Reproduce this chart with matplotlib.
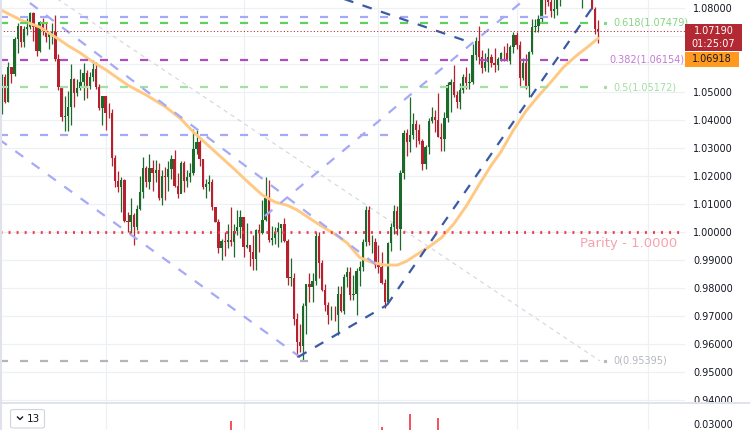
import matplotlib
matplotlib.use('Agg')
import matplotlib.pyplot as plt
import matplotlib.transforms as mtransforms
from matplotlib.patches import Rectangle, FancyBboxPatch
from matplotlib.lines import Line2D
import numpy as np
import pandas as pd

plt.rcParams['font.family'] = ['DejaVu Sans']
plt.rcParams['lines.scale_dashes'] = False

# ---------------- data (EUR/USD daily) ----------------
dates = pd.bdate_range('2022-05-17', '2023-02-07')

opens = [1.0437, 1.0553, 1.0465, 1.0588, 1.0563, 1.0690, 1.0734, 1.0677, 1.0725, 1.0733,
         1.0781, 1.0733, 1.0647, 1.0750, 1.0719, 1.0695, 1.0707, 1.0716, 1.0618, 1.0518,
         1.0409, 1.0413, 1.0446, 1.0547, 1.0495, 1.0513, 1.0537, 1.0567, 1.0520, 1.0554,
         1.0583, 1.0519, 1.0442, 1.0484, 1.0426, 1.0424, 1.0265, 1.0182, 1.0162, 1.0185,
         1.0040, 1.0036, 1.0061, 1.0019, 1.0081, 1.0143, 1.0228, 1.0179, 1.0230, 1.0211,
         1.0222, 1.0123, 1.0199, 1.0198, 1.0225, 1.0260, 1.0163, 1.0135, 1.0245, 1.0182,
         1.0196, 1.0211, 1.0298, 1.0322, 1.0259, 1.0160, 1.0170, 1.0178, 1.0088, 1.0037,
         0.9942, 0.9967, 0.9966, 0.9973, 0.9965, 1.0005, 1.0019, 1.0054, 0.9945, 0.9955,
         0.9930, 0.9903, 1.0006, 0.9997, 1.0042, 1.0121, 0.9971, 0.9978, 0.9999, 1.0015,
         1.0027, 0.9969, 0.9837, 0.9837, 0.9688, 0.9606, 0.9594, 0.9735, 0.9815, 0.9802,
         0.9825, 0.9987, 0.9888, 0.9792, 0.9741, 0.9703, 0.9705, 0.9702, 0.9780, 0.9719,
         0.9838, 0.9856, 0.9775, 0.9779, 0.9862, 0.9875, 0.9965, 1.0079, 0.9964, 0.9965,
         0.9883, 0.9875, 0.9819, 0.9749, 0.9960, 1.0018, 1.0075, 1.0011, 1.0210, 1.0355,
         1.0322, 1.0348, 1.0385, 1.0363, 1.0325, 1.0243, 1.0303, 1.0396, 1.0409, 1.0400,
         1.0340, 1.0332, 1.0406, 1.0524, 1.0535, 1.0491, 1.0466, 1.0507, 1.0555, 1.0532,
         1.0536, 1.0632, 1.0682, 1.0626, 1.0585, 1.0606, 1.0625, 1.0605, 1.0595, 1.0617,
         1.0640, 1.0638, 1.0612, 1.0660, 1.0705, 1.0669, 1.0550, 1.0605, 1.0520, 1.0643,
         1.0733, 1.0736, 1.0762, 1.0852, 1.0830, 1.0820, 1.0788, 1.0796, 1.0829, 1.0855,
         1.0870, 1.0886, 1.0915, 1.0890, 1.0870, 1.0848, 1.0863, 1.0989, 1.0912, 1.0795,
         1.0726]
highs = [1.0564, 1.0565, 1.0607, 1.0590, 1.0697, 1.0748, 1.0737, 1.0736, 1.0765, 1.0787,
         1.0786, 1.0737, 1.0752, 1.0764, 1.0749, 1.0711, 1.0748, 1.0774, 1.0637, 1.0521,
         1.0485, 1.0505, 1.0601, 1.0549, 1.0545, 1.0583, 1.0605, 1.0579, 1.0571, 1.0615,
         1.0606, 1.0530, 1.0487, 1.0486, 1.0462, 1.0441, 1.0275, 1.0219, 1.0198, 1.0190,
         1.0071, 1.0121, 1.0068, 1.0098, 1.0200, 1.0268, 1.0235, 1.0278, 1.0257, 1.0258,
         1.0247, 1.0221, 1.0233, 1.0254, 1.0274, 1.0294, 1.0209, 1.0254, 1.0253, 1.0223,
         1.0248, 1.0368, 1.0364, 1.0327, 1.0260, 1.0190, 1.0202, 1.0190, 1.0090, 1.0047,
         0.9975, 0.9999, 1.0029, 1.0090, 1.0028, 1.0080, 1.0079, 1.0055, 1.0033, 0.9950,
         0.9989, 1.0012, 1.0030, 1.0113, 1.0198, 1.0187, 1.0020, 1.0017, 1.0036, 1.0030,
         1.0051, 0.9976, 0.9908, 0.9852, 0.9709, 0.9671, 0.9747, 0.9816, 0.9854, 0.9855,
         0.9999, 0.9999, 0.9899, 0.9815, 0.9749, 0.9736, 0.9736, 0.9808, 0.9806, 0.9849,
         0.9876, 0.9876, 0.9847, 0.9871, 0.9898, 0.9976, 1.0094, 1.0093, 0.9989, 0.9979,
         0.9954, 0.9927, 0.9832, 0.9966, 1.0033, 1.0097, 1.0092, 1.0222, 1.0364, 1.0367,
         1.0481, 1.0424, 1.0399, 1.0385, 1.0332, 1.0311, 1.0408, 1.0448, 1.0434, 1.0497,
         1.0391, 1.0428, 1.0534, 1.0545, 1.0595, 1.0505, 1.0531, 1.0563, 1.0588, 1.0567,
         1.0673, 1.0695, 1.0736, 1.0651, 1.0638, 1.0658, 1.0637, 1.0658, 1.0626, 1.0644,
         1.0666, 1.0675, 1.0667, 1.0713, 1.0714, 1.0683, 1.0621, 1.0634, 1.0648, 1.0760,
         1.0760, 1.0776, 1.0868, 1.0870, 1.0874, 1.0866, 1.0887, 1.0846, 1.0859, 1.0927,
         1.0898, 1.0915, 1.0929, 1.0904, 1.0915, 1.0870, 1.0990, 1.1033, 1.0940, 1.0803,
         1.0756]
lows = [1.0422, 1.0459, 1.0463, 1.0532, 1.0557, 1.0641, 1.0660, 1.0662, 1.0705, 1.0725,
        1.0683, 1.0627, 1.0644, 1.0703, 1.0680, 1.0653, 1.0671, 1.0611, 1.0506, 1.0397,
        1.0360, 1.0359, 1.0383, 1.0446, 1.0485, 1.0508, 1.0470, 1.0480, 1.0510, 1.0540,
        1.0510, 1.0437, 1.0382, 1.0366, 1.0408, 1.0235, 1.0162, 1.0144, 1.0072, 1.0036,
        0.9999, 0.9998, 0.9952, 1.0007, 1.0080, 1.0123, 1.0160, 1.0153, 1.0147, 1.0180,
        1.0114, 1.0097, 1.0113, 1.0145, 1.0189, 1.0162, 1.0123, 1.0143, 1.0142, 1.0159,
        1.0177, 1.0202, 1.0277, 1.0234, 1.0152, 1.0121, 1.0148, 1.0077, 1.0034, 0.9926,
        0.9901, 0.9914, 0.9944, 0.9950, 0.9910, 0.9990, 0.9977, 0.9910, 0.9943, 0.9877,
        0.9865, 0.9864, 0.9929, 0.9993, 1.0039, 0.9966, 0.9955, 0.9957, 0.9945, 0.9966,
        0.9966, 0.9811, 0.9807, 0.9668, 0.9553, 0.9571, 0.95395, 0.9635, 0.9749, 0.9750,
        0.9812, 0.9836, 0.9788, 0.9719, 0.9671, 0.9686, 0.9681, 0.9632, 0.9713, 0.9707,
        0.9802, 0.9758, 0.9756, 0.9705, 0.9808, 0.9859, 0.9951, 0.9953, 0.9925, 0.9872,
        0.9853, 0.9813, 0.9730, 0.9747, 0.9933, 0.9993, 0.9990, 0.9935, 1.0190, 1.0271,
        1.0286, 1.0333, 1.0303, 1.0315, 1.0223, 1.0226, 1.0279, 1.0389, 1.0358, 1.0339,
        1.0290, 1.0289, 1.0394, 1.0429, 1.0483, 1.0443, 1.0441, 1.0497, 1.0512, 1.0509,
        1.0530, 1.0613, 1.0600, 1.0568, 1.0575, 1.0570, 1.0588, 1.0572, 1.0580, 1.0612,
        1.0612, 1.0610, 1.0600, 1.0640, 1.0653, 1.0521, 1.0542, 1.0511, 1.0483, 1.0636,
        1.0713, 1.0714, 1.0750, 1.0780, 1.0808, 1.0768, 1.0766, 1.0775, 1.0806, 1.0839,
        1.0835, 1.0832, 1.0835, 1.0836, 1.0835, 1.0801, 1.0831, 1.0904, 1.0796, 1.0708,
        1.0675]
closes = [1.0553, 1.0465, 1.0588, 1.0563, 1.0690, 1.0734, 1.0677, 1.0725, 1.0733, 1.0781,
          1.0733, 1.0647, 1.0750, 1.0719, 1.0695, 1.0707, 1.0716, 1.0618, 1.0518, 1.0409,
          1.0413, 1.0446, 1.0547, 1.0495, 1.0513, 1.0537, 1.0567, 1.0520, 1.0554, 1.0583,
          1.0519, 1.0442, 1.0484, 1.0426, 1.0424, 1.0265, 1.0182, 1.0162, 1.0185, 1.0040,
          1.0036, 1.0061, 1.0019, 1.0081, 1.0143, 1.0228, 1.0179, 1.0230, 1.0211, 1.0222,
          1.0123, 1.0199, 1.0198, 1.0225, 1.0260, 1.0163, 1.0135, 1.0245, 1.0182, 1.0196,
          1.0211, 1.0298, 1.0322, 1.0259, 1.0160, 1.0170, 1.0178, 1.0088, 1.0037, 0.9942,
          0.9967, 0.9966, 0.9973, 0.9965, 1.0005, 1.0019, 1.0054, 0.9945, 0.9955, 0.9930,
          0.9903, 1.0006, 0.9997, 1.0042, 1.0121, 0.9971, 0.9978, 0.9999, 1.0015, 1.0027,
          0.9969, 0.9837, 0.9837, 0.9688, 0.9606, 0.9594, 0.9735, 0.9815, 0.9802, 0.9825,
          0.9987, 0.9888, 0.9792, 0.9741, 0.9703, 0.9705, 0.9702, 0.9780, 0.9719, 0.9838,
          0.9856, 0.9775, 0.9779, 0.9862, 0.9875, 0.9965, 1.0079, 0.9964, 0.9965, 0.9883,
          0.9875, 0.9819, 0.9749, 0.9960, 1.0018, 1.0075, 1.0011, 1.0210, 1.0355, 1.0322,
          1.0348, 1.0385, 1.0363, 1.0325, 1.0243, 1.0303, 1.0396, 1.0409, 1.0400, 1.0340,
          1.0332, 1.0406, 1.0524, 1.0535, 1.0491, 1.0466, 1.0507, 1.0555, 1.0532, 1.0536,
          1.0632, 1.0682, 1.0626, 1.0585, 1.0606, 1.0625, 1.0605, 1.0595, 1.0617, 1.0640,
          1.0638, 1.0612, 1.0660, 1.0705, 1.0669, 1.0550, 1.0605, 1.0520, 1.0643, 1.0733,
          1.0736, 1.0762, 1.0852, 1.0830, 1.0820, 1.0788, 1.0796, 1.0829, 1.0855, 1.0870,
          1.0886, 1.0915, 1.0890, 1.0870, 1.0848, 1.0863, 1.0989, 1.0912, 1.0795, 1.0726,
          1.0719]

# 50-day moving average (candle index, value)
ma_idx = [0, 6, 12, 18, 21, 25, 29, 33, 38, 40, 46, 52, 57, 61, 67, 74, 79, 83, 87, 91,
          94, 97, 101, 106, 110, 114, 118, 122, 126, 129, 132, 136, 140, 144, 148, 152,
          156, 159, 163, 167, 171, 175, 179, 183, 187, 190]
ma_val = [1.0791, 1.0757, 1.0732, 1.0689, 1.0666, 1.0639, 1.0607, 1.0580, 1.0541, 1.0525,
          1.0489, 1.0448, 1.0404, 1.0357, 1.0296, 1.0225, 1.0172, 1.0132, 1.0107, 1.0095,
          1.0079, 1.0057, 1.0027, 0.9993, 0.9961, 0.9909, 0.9891, 0.9882, 0.9882, 0.9896,
          0.9918, 0.9946, 0.9979, 1.0029, 1.0093, 1.0168, 1.0239, 1.0286, 1.0364, 1.0432,
          1.0486, 1.0536, 1.0589, 1.0629, 1.0664, 1.06918]

# volume pane bars visible at the bottom edge
vol_idx = [73, 121, 130, 139]
vol_val = [0.03138, 0.02863, 0.03417, 0.03263]

# levels
fib_levels = [1.07479, 1.06154, 1.05172, 0.95395]
fib_labels = ['0.618(1.07479)', '0.382(1.06154)', '0.5(1.05172)', '0(0.95395)']
parity = 1.0
last_price = 1.07190
ma_last = 1.06918
lav_h_levels = [1.07668, 1.0346]
lav_h_ends = [176, 124.6]
price_ticks = [0.94, 0.95, 0.96, 0.97, 0.98, 0.99, 1.00, 1.01, 1.02, 1.03, 1.04, 1.05,
               1.06, 1.07, 1.08]
hidden_ticks = [1.06, 1.07]   # covered by the price / MA labels
month_grid_idx = [33, 77, 120, 164, 206]

# trendlines: (x0, p0, x1, p1)
lav_diag = [(8.9, 1.08179, 121.5, 0.98643),
            (-1.0, 1.03314, 95.0, 0.95536),
            (83.8, 1.00571, 168.3, 1.08464)]
blue_diag = [(104.6, 1.08493, 149.8, 1.06750),
             (94.4, 0.95536, 122.7, 0.97393),
             (122.7, 0.97393, 189.4, 1.08214)]
fib_diag = (-13.4, 1.10643, 190.6, 0.95395)

# ---------------- styling ----------------
GREEN = '#1b6a2a'
RED = '#b7202e'
W, H = 750, 430
PR = 685

fig = plt.figure(figsize=(W / 100, H / 100), dpi=100)
fig.patch.set_facecolor('white')
ax = fig.add_axes([0, (H - 402) / H, PR / W, 402 / H])
axv = fig.add_axes([0, 0, PR / W, 27 / H])

XMIN, XMAX = -0.64, 217.7
ax.set_xlim(XMIN, XMAX)
ax.set_ylim(0.93929, 1.08286)

for a in (ax, axv):
    for s in a.spines.values():
        s.set_visible(False)
    a.set_xticks(month_grid_idx)
    a.set_xticklabels([])
    a.tick_params(axis='x', length=0)
    a.grid(axis='x', color='#eef0f5', lw=0.9, zorder=0)

ax.set_yticks(price_ticks)
ax.set_yticklabels(['' if any(abs(v - t) < 1e-9 for t in hidden_ticks) else f'{v:.5f}'
                    for v in price_ticks])
ax.yaxis.tick_right()
ax.tick_params(axis='y', length=0, pad=5.8, labelsize=7, labelcolor='#131722')
ax.grid(axis='y', color='#eef0f5', lw=0.9, zorder=0)
ax.set_axisbelow(True)

idx = np.arange(len(closes))
o = np.array(opens); h = np.array(highs); l = np.array(lows); c = np.array(closes)
cols = np.where(c >= o, GREEN, RED)
ax.vlines(idx, l, h, colors=cols, lw=0.9, zorder=3)
ax.bar(idx, np.maximum(np.abs(c - o), 0.00012), bottom=np.minimum(o, c), width=0.74,
       color=cols, linewidth=0, zorder=3)

# moving average
ax.plot(ma_idx, ma_val, color='#ffc983', lw=2.1, zorder=4, solid_capstyle='round')

blend = mtransforms.blended_transform_factory(ax.transAxes, ax.transData)

# horizontal lavender lines
for lev, xe in zip(lav_h_levels, lav_h_ends):
    ax.plot([XMIN, xe], [lev, lev], color='#a6a9f6', lw=1.6, dashes=(5.8, 8.6), zorder=5)

# fib levels
fib_cols_line = ['#5fcf5f', '#b04cc2', '#a3e0a3', '#b2b5be']
fib_cols_text = ['#84d684', '#c47ad4', '#a3dea3', '#b4b7bf']
fib_text_x = [613, 609, 613, 613]
for lev, lab, lc, tc, tx in zip(fib_levels, fib_labels, fib_cols_line, fib_cols_text, fib_text_x):
    ax.plot([XMIN, 189], [lev, lev], color=lc, lw=1.6, dashes=(5.8, 8.6), zorder=5)
    ax.text(tx / PR, lev, lab, transform=blend, color=tc, fontsize=7, va='center', ha='left', zorder=6)
    if lab != '0.382(1.06154)':
        ax.plot([605 / PR], [lev], marker='s', ms=1.3, color=tc, transform=blend, zorder=6)

# diagonal lines
for x0, p0, x1, p1 in lav_diag:
    ax.plot([x0, x1], [p0, p1], color='#a6a9f6', lw=1.6, dashes=(7, 7.5), zorder=5)
for x0, p0, x1, p1 in blue_diag:
    ax.plot([x0, x1], [p0, p1], color='#3b5aa6', lw=1.6, dashes=(7, 7), zorder=5)
ax.plot([fib_diag[0], fib_diag[2]], [fib_diag[1], fib_diag[3]], color='#d3d6dc', lw=0.8,
        dashes=(3, 3), zorder=2)

# parity and current price line
ax.axhline(parity, color='#f23645', lw=2.0, dashes=(1.4, 4.4), zorder=5)
ax.axhline(last_price, color='#b22833', lw=0.7, dashes=(0.8, 1.6), zorder=5)
ax.annotate('Parity - 1.0000', xy=(677 / PR, parity), xycoords=blend,
            xytext=(0, -8), textcoords='offset points', ha='right', va='center',
            fontsize=9.5, color='#f7a3ac', zorder=6)

# volume pane
axv.set_xlim(XMIN, XMAX)
axv.set_ylim(0.0275, 0.03875)
axv.bar(vol_idx, vol_val, width=0.7, color='#f7525f', linewidth=0, zorder=3)
axv.set_yticks([0.03])
axv.set_yticklabels(['0.03000'])
axv.yaxis.tick_right()
axv.tick_params(axis='y', length=0, pad=5.8, labelsize=7, labelcolor='#131722')


def fx(px):
    return px / W


def fy(py):
    return (H - py) / H


# separator and left border
fig.add_artist(Line2D([0, 1], [fy(402.8), fy(402.8)], color='#e0e3eb', lw=1.4))
fig.add_artist(Line2D([fx(0.8), fx(0.8)], [0, 1], color='#dfe2ea', lw=1.5))

# price labels on the axis
fig.add_artist(Rectangle((fx(685), fy(51)), 57 / W, 27 / H, color='#b22833', lw=0, zorder=5))
fig.text(fx(713.5), fy(31.5), '1.07190', color='white', fontsize=7, ha='center', va='center', zorder=6)
fig.text(fx(713.5), fy(44), '01:25:07', color='white', fontsize=7, ha='center', va='center', zorder=6)
fig.add_artist(Rectangle((fx(685), fy(67)), 54 / W, 15 / H, color='#ff9a1f', lw=0, zorder=5))
fig.text(fx(712), fy(59.5), f'{ma_last:.5f}', color='#131722', fontsize=7, ha='center', va='center', zorder=6)

# collapsed indicator badge
fig.add_artist(FancyBboxPatch((fx(10.5), fy(428)), 34 / W, 18.5 / H,
                              boxstyle='round,pad=0,rounding_size=0.004',
                              facecolor='white', edgecolor='#d1d4dc', lw=0.8, zorder=5))
fig.add_artist(Line2D([fx(17.5), fx(20), fx(22.5)], [fy(417), fy(419.5), fy(417)],
                      color='#131722', lw=1.0, zorder=6))
fig.text(fx(27), fy(418.5), '13', color='#131722', fontsize=7.5, ha='left', va='center', zorder=6)

fig.savefig('out.png', dpi=100, facecolor='white')
